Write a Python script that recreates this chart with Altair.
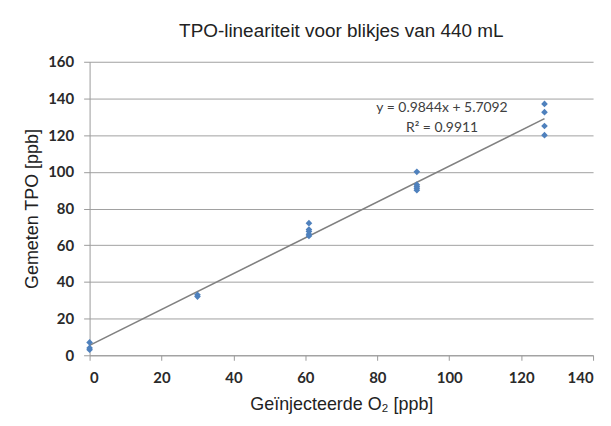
import altair as alt
import pandas as pd

# Injected O2 [ppb] and measured TPO [ppb]
injected = [0, 0, 0, 30, 30, 61, 61, 61, 61, 61, 91, 91, 91, 91, 91, 126.5, 126.5, 126.5, 126.5]
measured = [3, 4, 7, 32, 33, 65, 66, 67.5, 68.5, 72, 90, 91, 92, 93, 100, 120, 125, 132.5, 137]

eq_lines = ["y = 0.9844x + 5.7092", "R² = 0.9911"]
eq_x = [98, 98]
eq_y = [135, 123.8]

x_ticks = list(range(0, 141, 20))
y_ticks = list(range(0, 161, 20))

df = pd.DataFrame({"x": injected, "y": measured})
ann = pd.DataFrame({"x": eq_x, "y": eq_y, "t": eq_lines})

x_scale = alt.Scale(domain=[0, 140], nice=False)
y_scale = alt.Scale(domain=[0, 160], nice=False)

x_enc = alt.X("x:Q", scale=x_scale, title="Geïnjecteerde O₂ [ppb]",
              axis=alt.Axis(values=x_ticks, grid=False, tickSize=5,
                            labelPadding=10, titlePadding=11))
y_enc = alt.Y("y:Q", scale=y_scale, title="Gemeten TPO [ppb]",
              axis=alt.Axis(values=y_ticks, grid=True, tickSize=6,
                            labelPadding=10, titlePadding=6))

trend = alt.Chart(df).transform_regression(
    "x", "y", method="linear", extent=[0, 126.5]
).mark_line(color="#808080", strokeWidth=1.6).encode(x=x_enc, y=y_enc)

points = alt.Chart(df).mark_point(shape="diamond", filled=True, color="#4F81BD",
                                  size=45, opacity=1).encode(x=x_enc, y=y_enc)

text = alt.Chart(ann).mark_text(font="Lato", fontSize=14, color="#404040",
                                align="center", baseline="middle").encode(
    x=x_enc, y=y_enc, text="t:N")

chart = alt.layer(trend, points, text).properties(
    width=506, height=295,
    title=alt.Title("TPO-lineariteit voor blikjes van 440 mL", fontSize=19,
                    font="Liberation Sans", fontWeight="normal", color="#222222",
                    offset=14),
    autosize=alt.AutoSizeParams(type="none"),
    padding={"left": 82, "top": 53, "right": 10, "bottom": 60},
    background="#ffffff",
).configure_view(stroke=None).configure_axis(
    labelFont="Lato", labelFontWeight="bold", labelFontSize=15, labelColor="#2a2a2a",
    titleFont="Liberation Sans", titleFontWeight="normal", titleFontSize=18,
    titleColor="#222222", domainColor="#9a9a9a", tickColor="#9a9a9a",
    gridColor="#a0a0a0", gridWidth=1,
)

chart.save("out.html", embed_options={"renderer": "svg", "actions": False})
